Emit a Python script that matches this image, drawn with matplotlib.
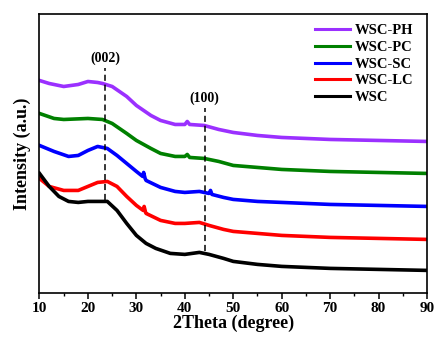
import matplotlib.pyplot as plt

# 2Theta positions, per series
x_ph = [10, 12, 15, 18, 20, 22, 23, 25, 28, 30, 33, 35, 38, 40, 40.5, 41, 44, 47, 50, 55, 60, 70, 80, 90]
y_ph = [213, 210, 207, 209, 212, 211, 210, 207, 197, 188, 178, 173, 169, 169, 172, 169, 168, 164, 161, 158, 156, 154, 153, 152]

x_pc = [10, 13, 15, 20, 23, 25, 28, 30, 33, 35, 38, 40, 40.5, 41, 44, 47, 50, 55, 60, 70, 80, 90]
y_pc = [180, 175, 174, 175, 174, 170, 160, 153, 145, 140, 137, 137, 139, 136, 135, 132, 128, 126, 124, 122, 121, 120]

x_sc = [10, 13, 16, 18, 20, 22, 24, 26, 28, 30, 31.3, 31.5, 31.8, 32, 35, 38, 40, 43, 45, 45.3, 45.6, 48, 50, 55, 60, 70, 80, 90]
y_sc = [148, 142, 137, 138, 143, 147, 145, 138, 130, 122, 117, 121, 115, 113, 106, 102, 101, 102, 100, 103, 99, 96, 94, 92, 91, 89, 88, 87]

x_lc = [10, 12, 15, 18, 20, 22, 24, 26, 28, 30, 31.4, 31.6, 31.9, 32, 35, 38, 40, 43, 45, 48, 50, 55, 60, 70, 80, 90]
y_lc = [115, 107, 103, 103, 107, 111, 112, 107, 97, 88, 83, 87, 81, 80, 73, 70, 70, 71, 68, 64, 62, 60, 58, 56, 55, 54]

x_wsc = [10, 12, 14, 16, 18, 20, 22, 24, 26, 28, 30, 32, 34, 37, 40, 43, 45, 48, 50, 55, 60, 70, 80, 90]
y_wsc = [120, 107, 97, 92, 91, 92, 92, 92, 83, 70, 58, 50, 45, 40, 39, 41, 39, 35, 32, 29, 27, 25, 24, 23]

series = [
    ("WSC-PH", x_ph, y_ph, "#9B30FF"),
    ("WSC-PC", x_pc, y_pc, "#008000"),
    ("WSC-SC", x_sc, y_sc, "#0000FF"),
    ("WSC-LC", x_lc, y_lc, "#FF0000"),
    ("WSC", x_wsc, y_wsc, "#000000"),
]

# peak markers: (label, x, y_top, y_bottom)
peaks = [("(002)", 23.6, 225, 93), ("(100)", 44.1, 185, 42)]

plt.rcParams['font.family'] = ['Liberation Serif', 'DejaVu Serif']
plt.rcParams['font.weight'] = 'bold'

fig = plt.figure(figsize=(4.34, 3.38), dpi=100)
ax = fig.add_axes([0.091, 0.132, 0.893, 0.828])

for name, xs, ys, c in series:
    ax.plot(xs, ys, color=c, lw=2.6, label=name)

for lab, px, ytop, ybot in peaks:
    ax.plot([px, px], [ybot, ytop], color="black", lw=1.1, ls=(0, (4, 2.5)))
    ax.text(px, ytop + 3, lab, ha="center", va="bottom", fontsize=10, fontweight="bold")

ax.set_xlim(10, 90)
ax.set_ylim(0, 280)
ax.set_xticks(range(10, 91, 10))
ax.set_xticks(range(15, 90, 10), minor=True)
ax.set_yticks([])
ax.tick_params(axis="x", which="major", length=4, width=1.1, labelsize=11, pad=2)
ax.tick_params(axis="x", which="minor", length=2.5, width=1.0)
for lbl in ax.get_xticklabels():
    lbl.set_fontweight("bold")
for sp in ax.spines.values():
    sp.set_linewidth(1.2)

ax.set_xlabel("2Theta (degree)", fontsize=13, fontweight="bold", labelpad=0)
ax.set_ylabel("Intensity (a.u.)", fontsize=13, fontweight="bold", labelpad=6)

leg = ax.legend(loc="upper right", bbox_to_anchor=(0.99, 1.0), frameon=False,
                prop={"size": 10.5, "weight": "bold"}, handlelength=2.4,
                handletextpad=0.3, labelspacing=0.25, borderaxespad=0.3)
for h in leg.get_lines():
    h.set_linewidth(2.2)

fig.savefig("out.png", dpi=100)
